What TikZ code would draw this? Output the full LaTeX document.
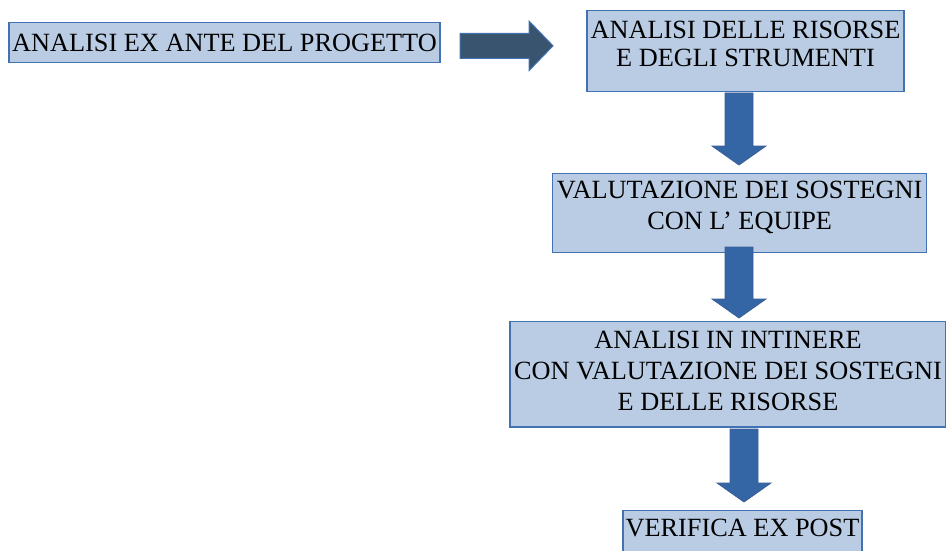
\documentclass[tikz,border=0pt]{standalone}
\usepackage{fontspec}
\setmainfont{Liberation Serif}
\usepackage{tikz}
\definecolor{boxfill}{RGB}{185,204,228}
\definecolor{boxline}{RGB}{66,114,178}
\definecolor{downblue}{RGB}{52,101,164}
\definecolor{downline}{RGB}{60,96,150}
\definecolor{rightslate}{RGB}{56,84,110}
\newcommand{\arrowdown}[3]{\filldraw[fill=downblue, draw=downline, line width=0.8pt] (#1-14,#2)--++(28,0)--(#1+14,#3-19)--(#1+27,#3-19)--(#1,#3)--(#1-27,#3-19)--(#1-14,#3-19)--cycle;}
\tikzset{
  box/.style={draw=boxline, fill=boxfill, line width=1.4pt, inner sep=0pt},
  boxtext/.style={align=center, inner sep=0pt, font=\fontsize{26.3}{31}\selectfont},
}

\begin{document}
\begin{tikzpicture}[x=1pt, y=-1pt]
\useasboundingbox (0,0) rectangle (946,551);
\clip (0,0) rectangle (946,551);
\node[box, minimum width=431pt, minimum height=39.6pt] (exante) at (224.5,42.5) {};
    \node[box, minimum width=317pt, minimum height=81pt] (risorse) at (745.5,51.2) {};
    \node[box, minimum width=374pt, minimum height=79.4pt] (sostegni) at (739.7,213) {};
    \node[box, minimum width=436pt, minimum height=105.3pt] (intinere) at (728,374.3) {};
    \node[box, minimum width=239pt, minimum height=80pt, anchor=north] (expost) at (742.5,510) {};
\node[boxtext] (exante-t) at (224.5,43.3) {ANALISI EX ANTE DEL PROGETTO};
    \node[boxtext, font=\fontsize{26.3}{28.4}\selectfont] (risorse-t) at (745.5,44.2) {ANALISI DELLE RISORSE\\E DEGLI STRUMENTI};
    \node[boxtext] (sostegni-t) at (739.7,207.5) {VALUTAZIONE DEI SOSTEGNI\\CON L’ EQUIPE};
    \node[boxtext] (intinere-t) at (728,370.8) {ANALISI IN INTINERE\\CON VALUTAZIONE DEI SOSTEGNI\\E DELLE RISORSE};
    \node[boxtext] (expost-t) at (742.5,528.3) {VERIFICA EX POST};
\filldraw[fill=rightslate, draw=boxline, line width=1pt] (460,33.3)--(529,33.3)--(529,21)--(553,45.8)--(529,70.7)--(529,58.3)--(460,58.3)--cycle;
\arrowdown{739}{93}{165}\arrowdown{739}{247}{318}\arrowdown{744}{429}{502}
\end{tikzpicture}
\end{document}
